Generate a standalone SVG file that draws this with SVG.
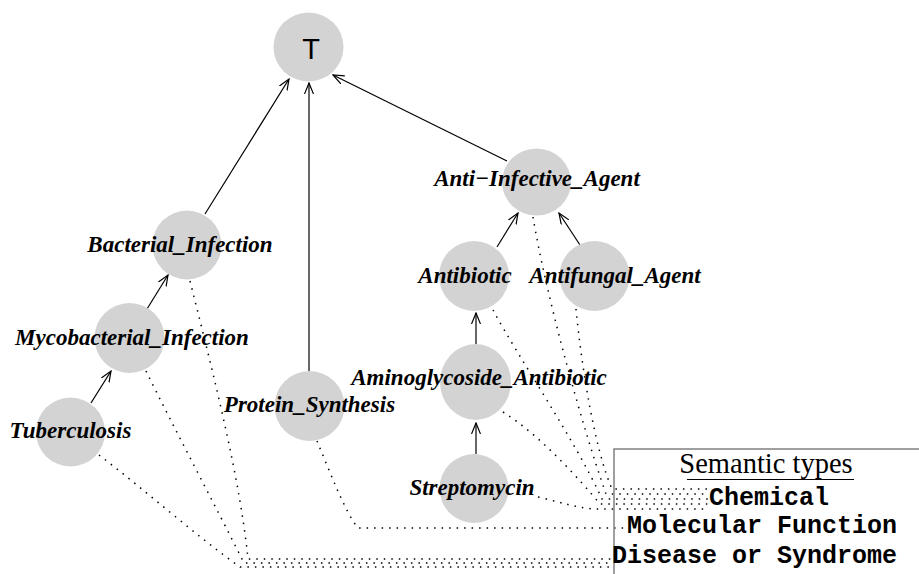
<svg xmlns="http://www.w3.org/2000/svg" width="919" height="574" viewBox="0 0 919 574">
<style>
.nd{fill:#d3d3d3;stroke:none}
.lb{font-family:"Liberation Serif",serif;font-weight:bold;font-style:italic;font-size:23px;fill:#000;text-anchor:middle}
.ed{stroke:#000;stroke-width:1.2;fill:none;marker-end:url(#arr)}
.dt{stroke:#000;stroke-width:1.5;fill:none;stroke-dasharray:1.5 6}
.mono{font-family:"Liberation Mono",monospace;font-weight:bold;font-size:25px;fill:#000}
</style>
<defs>
<marker id="arr" viewBox="0 0 12 10" refX="11" refY="5" markerWidth="12" markerHeight="10" markerUnits="userSpaceOnUse" orient="auto">
<path d="M0,0.5 L11,5 L0,9.5" fill="none" stroke="#000" stroke-width="1.2"/>
</marker>
</defs>
<g id="connectors">
<line class="ed" x1="205" y1="214" x2="289" y2="79"/>
<line class="ed" x1="147" y1="309" x2="168" y2="275"/>
<line class="ed" x1="91" y1="403" x2="111" y2="371"/>
<line class="ed" x1="309" y1="371" x2="309" y2="83"/>
<line class="ed" x1="507" y1="161" x2="333" y2="75"/>
<line class="ed" x1="497" y1="247" x2="518" y2="213"/>
<line class="ed" x1="580" y1="245" x2="559" y2="213"/>
<line class="ed" x1="476" y1="344" x2="476" y2="313"/>
<line class="ed" x1="476" y1="454" x2="476" y2="423"/>
<path class="dt" d="M99,455 C145,490 195,535 240,567 L612,567"/>
<path class="dt" d="M146,371 C175,430 215,505 244,563 L612,563"/>
<path class="dt" d="M190,281 C215,380 240,480 248,559 L612,559"/>
<path class="dt" d="M317,441 C330,472 345,512 358,528 L625,528"/>
<path class="dt" d="M576,309 C582,370 595,450 612,489 L708,489"/>
<path class="dt" d="M533,217 C545,290 580,420 606,494 L708,494"/>
<path class="dt" d="M493,310 C520,360 575,440 602,499 L708,499"/>
<path class="dt" d="M503,412 C540,435 580,480 600,504 L708,504"/>
<path class="dt" d="M538,497 C560,502 580,509 598,509 L708,509"/>
</g>
<g id="T">
<ellipse class="nd" cx="308.5" cy="47" rx="35" ry="34.5"/>
<text x="311" y="59" style="font-family:'Liberation Sans',sans-serif;font-size:29px;text-anchor:middle">T</text>
</g>
<g id="Bacterial_Infection">
<circle class="nd" cx="187" cy="245" r="34.5"/>
<text class="lb" x="180" y="252">Bacterial_Infection</text>
</g>
<g id="Mycobacterial_Infection">
<circle class="nd" cx="129.5" cy="338" r="35"/>
<text class="lb" x="132" y="345">Mycobacterial_Infection</text>
</g>
<g id="Tuberculosis">
<circle class="nd" cx="70.5" cy="432" r="34.5"/>
<text class="lb" x="70.5" y="438">Tuberculosis</text>
</g>
<g id="Protein_Synthesis">
<circle class="nd" cx="309.5" cy="406" r="35"/>
<text class="lb" x="309.5" y="412">Protein_Synthesis</text>
</g>
<g id="Anti-Infective_Agent">
<ellipse class="nd" cx="536.5" cy="182" rx="34.5" ry="33.5"/>
<text class="lb" x="537" y="186">Anti−Infective_Agent</text>
</g>
<g id="Antibiotic">
<circle class="nd" cx="474" cy="276" r="35"/>
<text class="lb" x="465" y="283">Antibiotic</text>
</g>
<g id="Antifungal_Agent">
<circle class="nd" cx="594.5" cy="276" r="35"/>
<text class="lb" x="615" y="283">Antifungal_Agent</text>
</g>
<g id="Aminoglycoside_Antibiotic">
<ellipse class="nd" cx="475.5" cy="382" rx="35.5" ry="38"/>
<text class="lb" x="479" y="385">Aminoglycoside_Antibiotic</text>
</g>
<g id="Streptomycin">
<circle class="nd" cx="474" cy="488.5" r="34.5"/>
<text class="lb" x="472" y="495">Streptomycin</text>
</g>
<g id="legend">
<rect x="614" y="449" width="320" height="140" fill="none" stroke="#808080" stroke-width="1.5"/>
<text x="766" y="473" style="font-family:'Liberation Serif',serif;font-size:28.5px;text-anchor:middle">Semantic types</text>
<line x1="687" y1="479.5" x2="854" y2="479.5" stroke="#000" stroke-width="1"/>
<text class="mono" x="709" y="505">Chemical</text>
<text class="mono" x="627" y="533">Molecular Function</text>
<text class="mono" x="612" y="563">Disease or Syndrome</text>
</g>
</svg>
